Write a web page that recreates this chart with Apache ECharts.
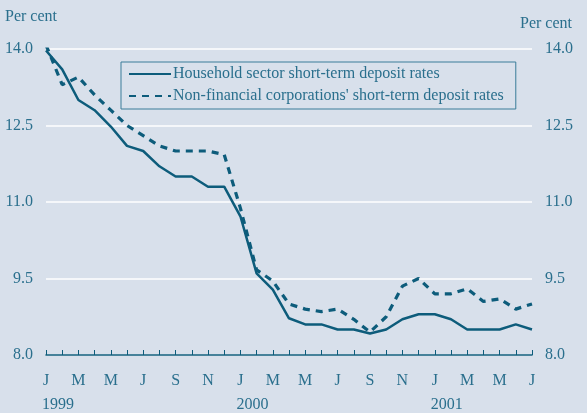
<!DOCTYPE html>
<html>
<head>
<meta charset="utf-8">
<script src="https://cdn.jsdelivr.net/npm/echarts@6/dist/echarts.min.js"></script>
<style>
  html, body { margin: 0; padding: 0; background: #d8e0eb; }
  #chart { width: 587px; height: 413px; }
</style>
</head>
<body>
<div id="chart"></div>
<script>
// months Jan 1999 .. Jul 2001
var months = ['J','F','M','A','M','J','J','A','S','O','N','D',
              'J','F','M','A','M','J','J','A','S','O','N','D',
              'J','F','M','A','M','J','J'];
var yearLabels = { 0: '1999', 12: '2000', 24: '2001' };
var yTicks = [8.0, 9.5, 11.0, 12.5, 14.0];

var household = [13.97, 13.6, 13.0, 12.8, 12.48, 12.1, 12.0, 11.7, 11.5, 11.5, 11.3, 11.3,
                 10.72, 9.6, 9.28, 8.72, 8.6, 8.6, 8.5, 8.5, 8.42, 8.5, 8.7, 8.8,
                 8.8, 8.7, 8.5, 8.5, 8.5, 8.6, 8.5];
var nonFinancial = [14.08, 13.3, 13.45, 13.1, 12.8, 12.5, 12.3, 12.1, 12.0, 12.0, 12.0, 11.93,
                    10.88, 9.67, 9.45, 9.0, 8.9, 8.85, 8.9, 8.7, 8.45, 8.75, 9.35, 9.5,
                    9.2, 9.2, 9.3, 9.05, 9.1, 8.9, 9.0];

var lineColor = '#0d5c7b';
var textColor = '#2a6f8d';
var font = 'Liberation Serif';
var fs = 16;

var myChart = echarts.init(document.getElementById('chart'));
var option = {
  backgroundColor: '#d8e0eb',
  animation: false,
  textStyle: { fontFamily: font },
  grid: { left: 46, right: 55, top: 49, bottom: 58 },
  graphic: [
    { type: 'text', left: 5, top: 9, style: { text: 'Per cent', font: fs + 'px ' + font, fill: textColor } },
    { type: 'text', left: 520, top: 16, style: { text: 'Per cent', font: fs + 'px ' + font, fill: textColor } }
  ],
  legend: {
    orient: 'vertical',
    left: 121,
    top: 62,
    padding: [4, 12, 5, 7],
    itemWidth: 42,
    itemHeight: 14,
    itemGap: 6,
    borderColor: '#3a7d99',
    borderWidth: 1,
    itemStyle: { opacity: 0 },
    textStyle: { color: textColor, fontSize: fs, fontFamily: font, padding: [0, 0, 0, -3] },
    data: ['Household sector short-term deposit rates', "Non-financial corporations' short-term deposit rates"]
  },
  xAxis: [
    {
      type: 'category',
      data: months,
      boundaryGap: false,
      axisLine: { lineStyle: { color: lineColor, width: 1.5 } },
      axisTick: { inside: true, length: 5, interval: 0, lineStyle: { color: lineColor, width: 1 } },
      axisLabel: { interval: 1, margin: 18, color: textColor, fontSize: fs, fontFamily: font },
      splitLine: { show: false }
    },
    {
      type: 'category',
      data: months,
      boundaryGap: false,
      position: 'bottom',
      offset: 24,
      axisLine: { show: false },
      axisTick: { show: false },
      axisLabel: {
        interval: 0, margin: 18, align: 'left', padding: [0, 0, 0, -4],
        color: textColor, fontSize: fs, fontFamily: font,
        formatter: function (v, i) { return yearLabels[i] || ''; }
      }
    }
  ],
  yAxis: [
    {
      type: 'value', min: yTicks[0], max: yTicks[yTicks.length - 1], interval: 1.5,
      position: 'left',
      axisLine: { show: false }, axisTick: { show: false },
      axisLabel: { margin: 13, color: textColor, fontSize: fs, fontFamily: font, formatter: function (v) { return v.toFixed(1); } },
      splitLine: { lineStyle: { color: '#ffffff', width: 1.5 } }
    },
    {
      type: 'value', min: yTicks[0], max: yTicks[yTicks.length - 1], interval: 1.5,
      position: 'right',
      axisLine: { show: false }, axisTick: { show: false },
      axisLabel: { margin: 13, color: textColor, fontSize: fs, fontFamily: font, formatter: function (v) { return v.toFixed(1); } },
      splitLine: { show: false }
    }
  ],
  series: [
    {
      name: 'Household sector short-term deposit rates',
      type: 'line',
      data: household,
      symbol: 'none',
      lineStyle: { color: lineColor, width: 2.5 },
      itemStyle: { color: lineColor },
      z: 3
    },
    {
      name: "Non-financial corporations' short-term deposit rates",
      type: 'line',
      data: nonFinancial,
      symbol: 'none',
      lineStyle: { color: lineColor, width: 3.2, type: [7, 6] },
      itemStyle: { color: lineColor },
      z: 2
    }
  ]
};
myChart.setOption(option);
</script>
</body>
</html>
